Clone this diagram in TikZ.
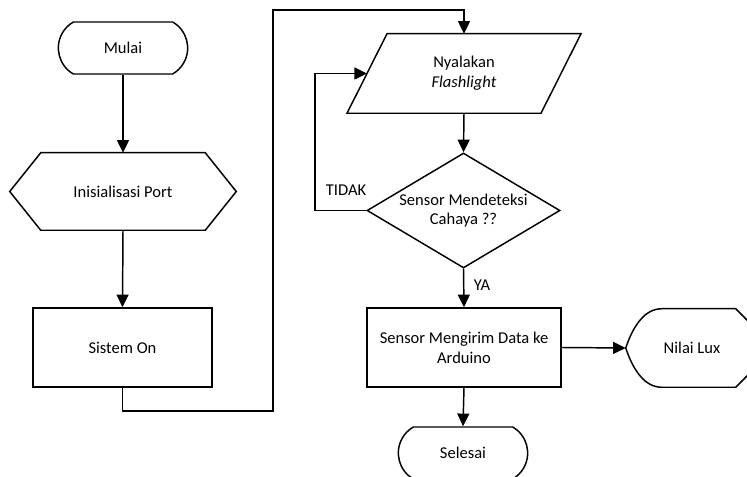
\documentclass[tikz,border=0pt]{standalone}
\usepackage{fontspec}
\setmainfont{Carlito}
\usetikzlibrary{arrows.meta,shapes.misc,shapes.geometric,calc}
\begin{document}
\begin{tikzpicture}[x=0.75pt,y=-0.75pt,
  every node/.style={font=\fontsize{12.4pt}{14.8pt}\selectfont, text=black, inner sep=1pt},
  line/.style={line width=1.1pt, draw=black},
  arr/.style={line, -{Triangle[length=9.5pt,width=9pt]}},
  term/.style={rounded rectangle, rounded rectangle arc length=120, draw, line width=1.1pt, minimum width=99pt, minimum height=39pt},
  box/.style={rectangle, draw, line width=1.1pt},
  frame/.style={rectangle, draw=none},
  lbl/.style={inner sep=0pt},
]
\useasboundingbox (0,0) rectangle (747,477);
\clip (0,0) rectangle (747,477);

% nodes
\node[term] (mulai) at (123,48) {Mulai};
\node[frame, minimum width=123pt, minimum height=57.75pt] (init) at (123,191.5) {Inisialisasi Port};
\draw[line] (init.north west) -- (init.north east) -- ($(init.east)+(31,0)$) -- (init.south east) -- (init.south west) -- ($(init.west)+(-31,0)$) -- cycle;
\node[box, minimum width=134.25pt, minimum height=59.25pt] (sistem) at (122.5,347.5) {Sistem On};

\node[frame, minimum width=145.1pt, minimum height=59.25pt, align=center] (para) at (464,73.5) {Nyalakan\\\textit{Flashlight}};
\draw[line] ($(para.north west)+(20,0)$) -- ($(para.north east)+(20,0)$) -- ($(para.south east)+(-20,0)$) -- ($(para.south west)+(-20,0)$) -- cycle;

\node[diamond, draw, line width=1.1pt, aspect=1.68, minimum width=144.75pt, minimum height=86.25pt, align=center, inner sep=0pt] (dec) at (463.5,210.5) {Sensor Mendeteksi\\Cahaya ??};

\node[box, minimum width=145.5pt, minimum height=59.25pt, align=center] (send) at (464,347.5) {Sensor Mengirim Data ke\\Arduino};

\node[frame, minimum width=99pt, minimum height=58.5pt] (lux) at (692,348) {Nilai Lux};
\draw[line] (lux.west) .. controls ($(lux.west)+(8,-24)$) and ($(lux.north west)+(20,0)$) .. ($(lux.north west)+(36,0)$)
  -- ($(lux.north west)+(110,0)$) -- ($(lux.north west)+(124,14)$) -- ($(lux.south west)+(124,-14)$)
  -- ($(lux.south west)+(110,0)$) -- ($(lux.south west)+(36,0)$)
  .. controls ($(lux.south west)+(20,0)$) and ($(lux.west)+(8,24)$) .. (lux.west);

\node[term] (sel) at (463,453) {Selesai};

\node[lbl] (tidak) at (346,190) {TIDAK};
\node[lbl] (ya) at (482,285) {YA};

% helper coordinates
\coordinate (c1) at (273,411);
\coordinate (c2) at (273,10);
\coordinate (c3) at (315,210.5);

% connectors
\draw[arr] (mulai.south) -- (init.north);
\draw[arr] (init.south) -- (sistem.north);
\draw[arr] (sistem.south) |- (c1) -- (c2) -| (para.north);
\draw[arr] (para.south) -- (dec.north);
\draw[arr] (dec.west) -- (c3) |- (para.west);
\draw[arr] (dec.south) -- (send.north);
\draw[arr] (send.east) -- (lux.west);
\draw[arr] (send.south) -- (sel.north);
\end{tikzpicture}
\end{document}
